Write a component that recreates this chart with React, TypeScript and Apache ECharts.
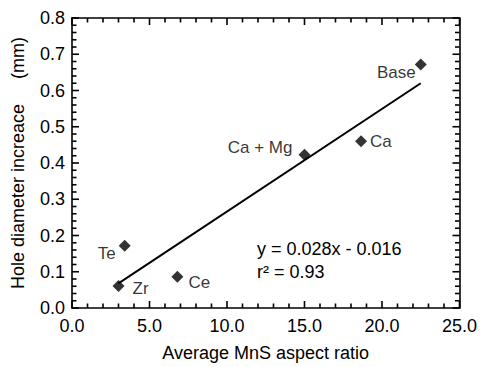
import React, { useEffect, useRef } from "react";
import * as echarts from "echarts";

const names = ["Zr", "Te", "Ce", "Ca + Mg", "Ca", "Base"];
const aspectRatio = [3.0, 3.4, 6.8, 15.0, 18.65, 22.5];
const holeIncrease = [0.061, 0.172, 0.086, 0.423, 0.46, 0.672];
const fitX = [3.0, 22.5];
const fitY = [0.068, 0.62];
const equationLines = ["y = 0.028x - 0.016", "r\u00b2 = 0.93"];

const X_MIN = 0, X_MAX = 25, X_MAJOR = 5, X_MINOR = 1;
const Y_MIN = 0, Y_MAX = 0.8, Y_MAJOR = 0.1, Y_MINOR = 0.02;

const labelPlacement: { position: string; distance: number; offset: [number, number] }[] = [
  { position: "right", distance: 8, offset: [0, 3] },
  { position: "left", distance: 3, offset: [0, 8] },
  { position: "right", distance: 5, offset: [0, 6] },
  { position: "left", distance: 6, offset: [0, -7] },
  { position: "right", distance: 3, offset: [0, 0] },
  { position: "left", distance: 0, offset: [1, 8] },
];

const FONT = "'Liberation Sans', Arial, sans-serif";

const xTickValues: number[] = [];
for (let i = 0; i <= Math.round((X_MAX - X_MIN) / X_MINOR); i++) xTickValues.push(X_MIN + i * X_MINOR);
const yTickValues: number[] = [];
for (let i = 0; i <= Math.round((Y_MAX - Y_MIN) / Y_MINOR); i++) yTickValues.push(+(Y_MIN + i * Y_MINOR).toFixed(4));

const isMajor = (v: number, step: number) => Math.abs(v / step - Math.round(v / step)) < 1e-6;

const mkLine = () => ({ show: true, onZero: false, lineStyle: { color: "#000", width: 1.6 } });

export default function App() {
  const ref = useRef<HTMLDivElement>(null);
  useEffect(() => {
    if (!ref.current) return;
    const chart = echarts.init(ref.current, undefined, { renderer: "svg" });
    const tickStyle = { stroke: "#000", lineWidth: 1.6 };
    chart.setOption({
      animation: false,
      backgroundColor: "#fff",
      grid: { left: 72, right: 19, top: 18, bottom: 55 },
      xAxis: [
        {
          type: "value",
          position: "bottom",
          min: X_MIN,
          max: X_MAX,
          interval: X_MAJOR,
          axisLine: mkLine(),
          axisTick: { show: false },
          splitLine: { show: false },
          axisLabel: { color: "#000", fontSize: 18, fontFamily: FONT, margin: 9, formatter: (v: number) => v.toFixed(1) },
          name: "Average MnS aspect ratio",
          nameLocation: "middle",
          nameGap: 36,
          nameTextStyle: { color: "#000", fontSize: 18, fontFamily: FONT },
        },
        {
          type: "value",
          position: "top",
          min: X_MIN,
          max: X_MAX,
          interval: X_MAJOR,
          axisLine: mkLine(),
          axisTick: { show: false },
          splitLine: { show: false },
          axisLabel: { show: false },
        },
      ],
      yAxis: [
        {
          type: "value",
          position: "left",
          min: Y_MIN,
          max: Y_MAX,
          interval: Y_MAJOR,
          axisLine: mkLine(),
          axisTick: { show: false },
          splitLine: { show: false },
          axisLabel: { color: "#000", fontSize: 18, fontFamily: FONT, margin: 7, formatter: (v: number) => v.toFixed(1) },
          name: "Hole diameter increace     (mm)",
          nameLocation: "middle",
          nameGap: 45,
          nameRotate: 90,
          nameTextStyle: { color: "#000", fontSize: 18, fontFamily: FONT },
        },
        {
          type: "value",
          position: "right",
          min: Y_MIN,
          max: Y_MAX,
          interval: Y_MAJOR,
          axisLine: mkLine(),
          axisTick: { show: false },
          splitLine: { show: false },
          axisLabel: { show: false },
        },
      ],
      series: [
        {
          type: "custom",
          silent: true,
          clip: false,
          z: 1,
          data: xTickValues.map((v) => [v, Y_MIN]),
          renderItem: (_p: any, api: any) => {
            const v = api.value(0);
            const len = isMajor(v, X_MAJOR) ? 7 : 4.5;
            const b = api.coord([v, Y_MIN]);
            const t = api.coord([v, Y_MAX]);
            return {
              type: "group",
              children: [
                { type: "line", shape: { x1: b[0], y1: b[1], x2: b[0], y2: b[1] - len }, style: tickStyle },
                { type: "line", shape: { x1: t[0], y1: t[1], x2: t[0], y2: t[1] + len }, style: tickStyle },
              ],
            };
          },
        },
        {
          type: "custom",
          silent: true,
          clip: false,
          z: 1,
          data: yTickValues.map((v) => [X_MIN, v]),
          renderItem: (_p: any, api: any) => {
            const v = api.value(1);
            const len = isMajor(v, Y_MAJOR) ? 7 : 4.5;
            const l = api.coord([X_MIN, v]);
            const r = api.coord([X_MAX, v]);
            return {
              type: "group",
              children: [
                { type: "line", shape: { x1: l[0], y1: l[1], x2: l[0] + len, y2: l[1] }, style: tickStyle },
                { type: "line", shape: { x1: r[0], y1: r[1], x2: r[0] - len, y2: r[1] }, style: tickStyle },
              ],
            };
          },
        },
        {
          type: "line",
          data: fitX.map((x, i) => [x, fitY[i]]),
          symbol: "none",
          lineStyle: { color: "#000", width: 2 },
          z: 2,
        },
        {
          type: "scatter",
          symbol: "diamond",
          symbolSize: 12,
          itemStyle: { color: "#000" },
          z: 3,
          data: names.map((n, i) => ({
            name: n,
            value: [aspectRatio[i], holeIncrease[i]],
            label: {
              show: true,
              position: labelPlacement[i].position,
              distance: labelPlacement[i].distance,
              offset: labelPlacement[i].offset,
              formatter: n,
              color: "#000",
              fontSize: 17,
              fontFamily: FONT,
            },
          })),
        },
      ],
      graphic: equationLines.map((t, i) => ({
        type: "text",
        left: 257,
        top: 240 + i * 23,
        style: { text: t, fill: "#000", fontSize: 18, fontFamily: FONT },
      })),
    });
    return () => chart.dispose();
  }, []);
  return <div ref={ref} style={{ width: 480, height: 367, position: "absolute", left: 0, top: 0 }} />;
}
